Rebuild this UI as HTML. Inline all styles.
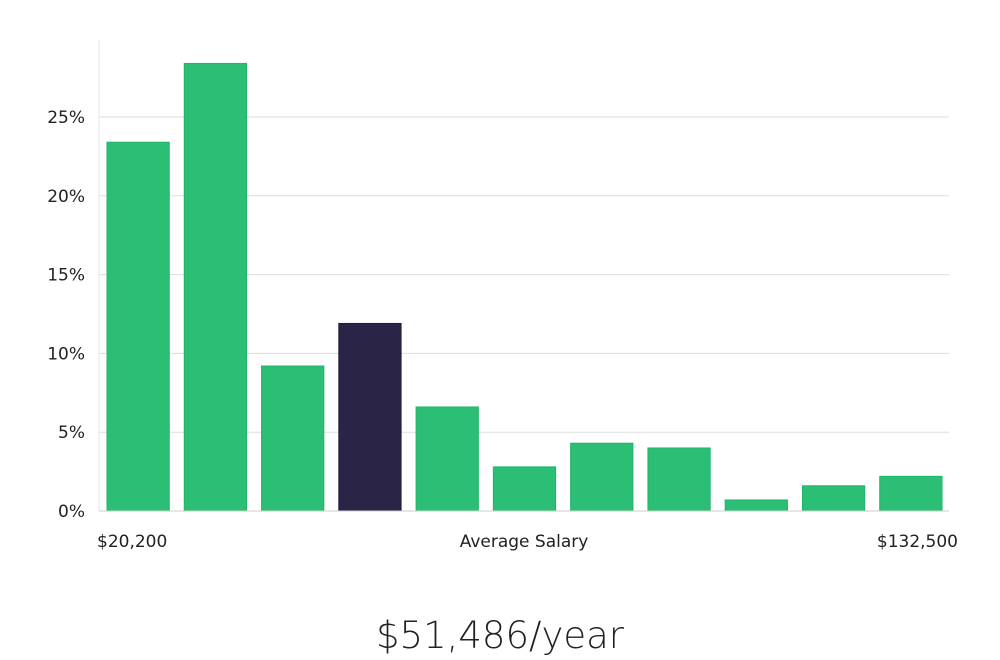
<!DOCTYPE html>
<html><head><meta charset="utf-8"><style>
body{margin:0;background:#fff;width:1000px;height:660px;overflow:hidden;font-family:"DejaVu Sans","Liberation Sans",sans-serif;}
svg{display:block}
</style></head><body>
<svg id="chart" width="1000" height="660" viewBox="0 0 1000 660"></svg>
<script>
const categories=["b1","b2","b3","b4","b5","b6","b7","b8","b9","b10","b11"];
const values=[23.4,28.4,9.2,11.9,6.6,2.8,4.3,4.0,0.7,1.6,2.2];
const highlightIndex=3;
const yTicks=[0,5,10,15,20,25];
const yTickLabels=["0%","5%","10%","15%","20%","25%"];
const xLabels=["$20,200","Average Salary","$132,500"];
const titleText="$51,486/year";

const svg=document.getElementById('chart');
const NS="http://www.w3.org/2000/svg";
const x0=99,x1=949,y0=511,pxPer=(511-117)/25;
const y=v=>y0-v*pxPer;
const slot=(x1-x0)/categories.length;
const bx=i=>x0+i*slot+8;
function mk(t,a){const e=document.createElementNS(NS,t);for(const k in a)e.setAttribute(k,a[k]);svg.appendChild(e);return e;}
yTicks.forEach((t,i)=>{
  if(t>0){const g=mk('line',{x1:x0,x2:x1,y1:y(t),y2:y(t),stroke:'#dddddd','stroke-width':1});
  
  }
  const tx=mk('text',{x:85,y:y(t)+6,'text-anchor':'end','font-size':17,fill:'#222'});
  tx.textContent=yTickLabels[i];
  
  
});
const ax=mk('line',{x1:x0,x2:x0,y1:40,y2:y0,stroke:'#e6e6e6','stroke-width':1});


values.forEach((v,i)=>{
  const hi=i===highlightIndex;
  const r=mk('rect',{x:bx(i),y:y(v),width:slot-15,height:y0-y(v),fill:hi?'#2a2546':'#2bbf75',stroke:hi?'#1f1a3a':'#22b36a','stroke-width':1});
  
  
});
const bl=mk('line',{x1:x0,x2:x1,y1:y0,y2:y0,stroke:'#cccccc','stroke-width':1});


const xpos=[[97,'start'],[524,'middle'],[958,'end']];
xLabels.forEach((l,i)=>{
  const t=mk('text',{x:xpos[i][0],y:547,'text-anchor':xpos[i][1],'font-size':17,fill:'#222'});
  t.textContent=l;
  
  
});
const ti=mk('text',{x:500,y:648,'text-anchor':'middle','font-size':37,'font-weight':200,fill:'#222'});
ti.textContent=titleText;


</script>
</body></html>
